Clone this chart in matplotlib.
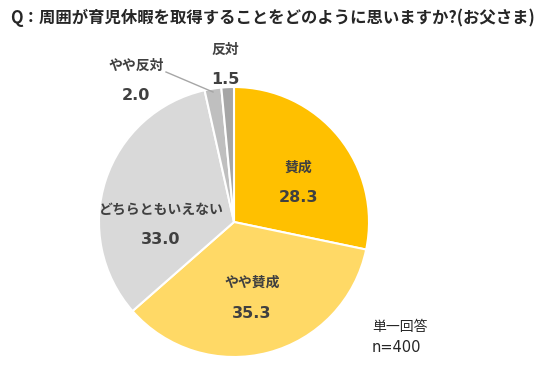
import matplotlib
matplotlib.use("Agg")
import matplotlib.pyplot as plt

plt.rcParams['font.family'] = ['Noto Sans CJK JP', 'DejaVu Sans']

labels = ['賛成', 'やや賛成', 'どちらともいえない', 'やや反対', '反対']
values = [28.3, 35.3, 33.0, 2.0, 1.5]
colors = ['#FFC000', '#FFD966', '#D9D9D9', '#BFBFBF', '#A6A6A6']

W, H = 550, 372
fig = plt.figure(figsize=(5.5, 3.72), dpi=100)
ax = fig.add_axes([0, 0, 1, 1])
ax.set_xlim(0, W)
ax.set_ylim(0, H)
ax.set_aspect('equal')
ax.axis('off')

cx, cy, r = 234, H - 222, 135
wedges, _ = ax.pie(values, colors=colors, startangle=90, counterclock=False,
                   center=(cx, cy), radius=r,
                   wedgeprops=dict(edgecolor='white', linewidth=1.5))
ax.set_xlim(0, W)
ax.set_ylim(0, H)

# label positions (pixel coords, top-left origin)
label_pos = [(298, 183), (252, 298), (161, 225), (136, 81), (225, 65)]
txt = '#404040'
for lab, v, (x, y) in zip(labels, values, label_pos):
    ax.text(x, H - y + 15, lab, ha='center', va='center', fontsize=10,
            fontweight='bold', color=txt)
    ax.text(x, H - y - 15, f'{v:.1f}', ha='center', va='center', fontsize=11.5,
            fontweight='bold', color=txt, family=['DejaVu Sans'])

# leader line for やや反対
ax.plot([166, 213], [H - 72, H - 92], color='#A6A6A6', lw=1)

fig.text(10 / W, 1 - 18 / H, 'Q：周囲が育児休暇を取得することをどのように思いますか?(お父さま)',
         ha='left', va='center', fontsize=11.8, fontweight='bold', color='#262626')
fig.text(372 / W, 1 - 327 / H, '単一回答', ha='left', va='center', fontsize=10, color='#262626')
fig.text(372 / W, 1 - 347 / H, 'n=400', ha='left', va='center', fontsize=10.5,
         color='#262626', family=['DejaVu Sans'])

fig.savefig('out.png', dpi=100)
